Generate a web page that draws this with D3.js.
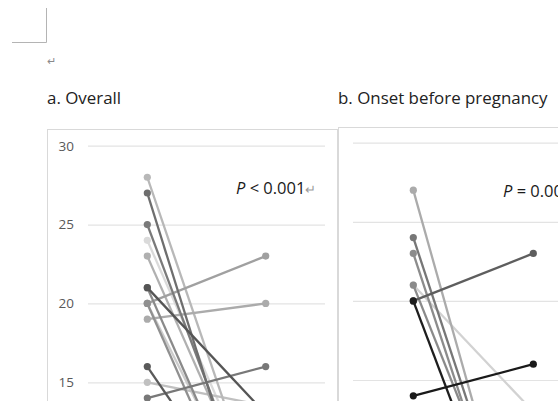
<!DOCTYPE html>
<html lang="en">
<head>
<meta charset="UTF-8">
<title>Before / after</title>
<script src="https://d3js.org/d3.v7.min.js"></script>
<style>
    body { margin: 0; background: #fff; overflow: hidden; }
    text { font-family: 'Open Sans', 'Noto Sans', sans-serif; }
    .tick text { fill: #595959; font-size: 13.5px; }
    .tick line { stroke: #e3e3e3; stroke-width: 1.2; }
</style>
</head>
<body>
<script>

    const width  = 558;
    const height = 401;

    const phases = ['Before', 'After'];
    const yTicks = [15, 20, 25, 30];

    // a. Overall
    const overallBefore = [28, 27, 25, 24, 23, 21, 21, 20, 20, 20, 19, 16, 15, 14];
    const overallAfter  = [ 6,  3,  5,  7,  6, 13,  4, 23,  3,  5, 20,  5, 13.5, 16];

    // b. Onset before pregnancy
    const onsetBefore = [27, 24, 23, 21, 21, 20, 20, 14];
    const onsetAfter  = [ 0,  1,  0,  2, 13, 23,  0, 16];

    const grayA = ['#b8b8b8', '#6e6e6e', '#7a7a7a', '#dadada', '#b0b0b0', '#555555', '#8a8a8a',
                   '#a0a0a0', '#909090', '#cccccc', '#ababab', '#5a5a5a', '#c0c0c0', '#787878'];
    const grayB = ['#ababab', '#777777', '#8c8c8c', '#8a8a8a', '#d2d2d2', '#5e5e5e', '#1e1e1e', '#1a1a1a'];

    const svg = d3.select('body').append('svg')
        .attr('width', width)
        .attr('height', height);

    // page furniture from the document
    svg.append('path')
        .attr('d', 'M46.5,8V42.5H12')
        .attr('fill', 'none')
        .attr('stroke', '#b4b4b4')
        .attr('stroke-width', 1);
    svg.append('text')
        .text('\u21b5')
        .attr('x', 47).attr('y', 65)
        .attr('font-size', 11).attr('fill', '#8a8a8a');

    function panel(cfg) {
        const g = svg.append('g');

        g.append('text')
            .text(cfg.title)
            .attr('x', cfg.titleX).attr('y', 103.5)
            .attr('font-size', 16.9).attr('fill', '#222');

        g.append('rect')
            .attr('x', cfg.frame[0]).attr('y', cfg.frame[1])
            .attr('width', cfg.frame[2]).attr('height', 400)
            .attr('fill', '#fff')
            .attr('stroke', '#d9d9d9');

        const y = d3.scaleLinear().domain([15, 30]).range(cfg.yRange);
        const x = d3.scalePoint().domain(phases).range(cfg.xRange);

        const axis = g.append('g')
            .attr('transform', 'translate(' + cfg.grid[0] + ',0)')
            .call(d3.axisLeft(y)
                .tickValues(yTicks)
                .tickSize(-(cfg.grid[1] - cfg.grid[0]))
                .tickPadding(cfg.showLabels ? 14 : 0)
                .tickFormat(cfg.showLabels ? d3.format('d') : ''));
        axis.select('.domain').remove();

        const pairs = cfg.before.map((b, i) => ({b: b, a: cfg.after[i], c: cfg.colors[i]}));

        // draw darker lines last so they sit on top
        const ordered = pairs.slice().sort((p, q) => d3.hsl(q.c).l - d3.hsl(p.c).l);

        const lines = g.selectAll('.pair')
            .data(ordered)
            .enter().append('g').attr('class', 'pair');

        lines.append('line')
            .attr('x1', x('Before')).attr('x2', x('After'))
            .attr('y1', d => y(d.b)).attr('y2', d => y(d.a))
            .attr('stroke', d => d.c)
            .attr('stroke-width', 2.3);

        lines.selectAll('circle')
            .data(d => [{p: 'Before', v: d.b, c: d.c}, {p: 'After', v: d.a, c: d.c}])
            .enter().append('circle')
            .attr('cx', d => x(d.p))
            .attr('cy', d => y(d.v))
            .attr('r', 3.6)
            .attr('fill', d => d.c);

        const p = g.append('text')
            .attr('x', cfg.pPos[0]).attr('y', cfg.pPos[1])
            .attr('font-size', 16.5).attr('fill', '#1a1a1a');
        p.append('tspan').text('P').attr('font-style', 'italic');
        p.append('tspan').text(cfg.pText);
        if (cfg.mark) p.append('tspan').text('\u21b5').attr('fill', '#9a9a9a').attr('font-size', 13);
    }

    panel({
        title: 'a. Overall', titleX: 47,
        frame: [47.5, 129.5, 290],
        grid: [88, 325],
        yRange: [382.3, 145.7],
        xRange: [147.3, 265.7],
        showLabels: true,
        before: overallBefore, after: overallAfter, colors: grayA,
        pText: ' < 0.001', mark: true, pPos: [236, 194]
    });

    panel({
        title: 'b. Onset before pregnancy', titleX: 338,
        frame: [338.5, 127.5, 300],
        grid: [353, 600],
        yRange: [380, 142.7],
        xRange: [413.3, 533.3],
        showLabels: false,
        before: onsetBefore, after: onsetAfter, colors: grayB,
        pText: ' = 0.001', mark: false, pPos: [503, 196.5]
    });

</script>
</body>
</html>
